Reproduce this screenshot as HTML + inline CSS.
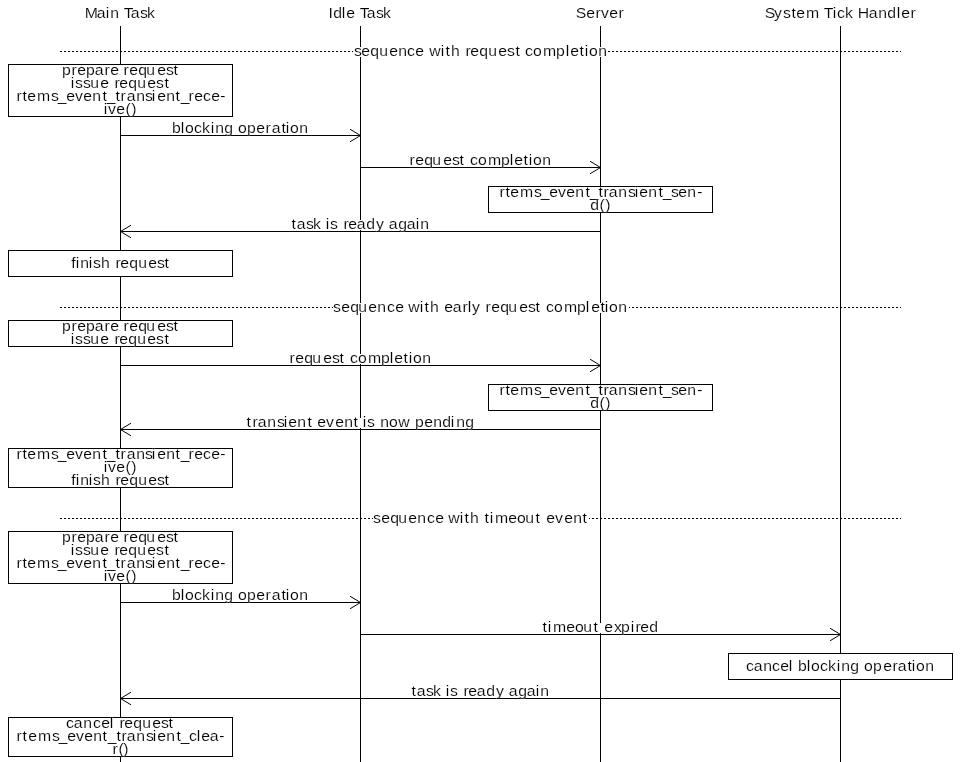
<!DOCTYPE html>
<html><head><meta charset="utf-8"><title>Transient event sequence</title><style>
html,body{margin:0;padding:0;background:#fff;width:960px;height:762px;overflow:hidden}
svg{display:block}
text{font-family:"Liberation Sans",sans-serif;font-size:15.2px;fill:#000;font-kerning:none;font-variant-ligatures:none;will-change:transform;stroke:#fff;stroke-width:0.15px}
</style></head><body>
<svg width="960" height="762" viewBox="0 0 960 762">
<rect width="960" height="762" fill="#fff"/>
<g stroke="#000" shape-rendering="crispEdges"><line x1="120.5" y1="26" x2="120.5" y2="762"/><line x1="360.5" y1="26" x2="360.5" y2="762"/><line x1="600.5" y1="26" x2="600.5" y2="762"/><line x1="840.5" y1="26" x2="840.5" y2="762"/></g>
<line x1="60" y1="51.5" x2="901" y2="51.5" stroke="#000" stroke-dasharray="2 2" shape-rendering="crispEdges"/>
<rect x="353" y="47" width="255" height="10" fill="#fff"/>
<text x="340.38 347.36 356.01 364.66 374.28 382.93 391.35 399.28 407.93 412.74 423.80 428.37 433.65 442.31 447.60 452.16 460.82 469.47 479.09 487.50 495.67 500.34 504.81 512.50 522.12 534.62 543.99 548.32 557.21 562.26 566.35 575.24" y="56" transform="scale(1.04,1)">sequence with request completion</text>
<line x1="60" y1="307.5" x2="901" y2="307.5" stroke="#000" stroke-dasharray="2 2" shape-rendering="crispEdges"/>
<rect x="333" y="303" width="296" height="10" fill="#fff"/>
<text x="320.19 328.12 336.78 344.47 354.09 362.74 372.12 380.05 388.01 392.55 403.61 408.17 413.46 422.38 427.16 435.34 444.71 449.76 453.85 462.23 466.83 472.36 481.01 488.70 499.28 507.69 514.90 520.27 525.00 532.69 542.31 554.81 563.22 568.51 577.40 581.49 585.58 594.47" y="312" transform="scale(1.04,1)">sequence with early request completion</text>
<line x1="60" y1="518.5" x2="901" y2="518.5" stroke="#000" stroke-dasharray="2 2" shape-rendering="crispEdges"/>
<rect x="373" y="514" width="216" height="10" fill="#fff"/>
<text x="358.65 366.59 375.24 382.93 392.55 401.20 410.58 418.51 426.08 431.01 442.07 446.63 451.92 460.45 465.87 470.91 475.96 488.70 497.12 505.05 514.90 519.86 525.24 533.65 542.55 551.20 560.10" y="523" transform="scale(1.04,1)">sequence with timeout event</text>
<rect x="8.5" y="64.5" width="224" height="52" fill="#fff" stroke="#000" shape-rendering="crispEdges"/>
<text x="59.62 68.75 74.28 82.69 91.11 100.48 106.01 113.30 118.75 124.28 132.93 140.62 151.20 159.62 166.83" y="75" transform="scale(1.04,1)">prepare request</text>
<text x="68.03 72.12 79.81 86.78 96.39 103.97 110.10 114.66 123.32 131.97 141.59 150.00 158.17" y="88" transform="scale(1.04,1)">issue request</text>
<text x="15.87 21.63 26.20 35.58 49.04 55.53 63.70 72.12 80.05 88.70 98.56 102.64 111.06 115.87 121.88 131.01 139.42 145.91 151.20 159.86 168.75 173.80 181.25 186.78 195.19 203.12 211.78" y="101" transform="scale(1.04,1)">rtems_event_transient_rece-</text>
<text x="99.76 103.85 111.78 120.67 126.20" y="114" transform="scale(1.04,1)">ive()</text>
<rect x="488.5" y="186.5" width="224" height="26" fill="#fff" stroke="#000" shape-rendering="crispEdges"/>
<text x="480.29 486.06 490.62 500.00 513.46 519.95 528.12 536.54 544.47 553.12 562.98 567.07 575.48 580.29 585.34 594.47 603.85 610.34 614.66 623.32 633.17 637.26 645.19 652.16 660.82 670.43" y="197" transform="scale(1.04,1)">rtems_event_transient_sen-</text>
<text x="567.55 576.44 581.97" y="210" transform="scale(1.04,1)">d()</text>
<rect x="8.5" y="250.5" width="224" height="26" fill="#fff" stroke="#000" shape-rendering="crispEdges"/>
<text x="68.51 72.84 77.16 85.34 89.42 97.12 105.37 111.06 115.62 124.28 132.93 142.55 150.96 158.17" y="268" transform="scale(1.04,1)">finish request</text>
<rect x="8.5" y="320.5" width="224" height="26" fill="#fff" stroke="#000" shape-rendering="crispEdges"/>
<text x="59.62 68.75 74.28 82.69 91.11 100.48 106.01 113.30 118.75 124.28 132.93 140.62 151.20 159.62 166.83" y="331" transform="scale(1.04,1)">prepare request</text>
<text x="68.03 72.12 79.81 86.78 96.39 103.97 110.10 114.66 123.32 131.97 141.59 150.00 158.17" y="344" transform="scale(1.04,1)">issue request</text>
<rect x="488.5" y="384.5" width="224" height="26" fill="#fff" stroke="#000" shape-rendering="crispEdges"/>
<text x="480.29 486.06 490.62 500.00 513.46 519.95 528.12 536.54 544.47 553.12 562.98 567.07 575.48 580.29 585.34 594.47 603.85 610.34 614.66 623.32 633.17 637.26 645.19 652.16 660.82 670.43" y="395" transform="scale(1.04,1)">rtems_event_transient_sen-</text>
<text x="567.55 576.44 581.97" y="408" transform="scale(1.04,1)">d()</text>
<rect x="8.5" y="448.5" width="224" height="39" fill="#fff" stroke="#000" shape-rendering="crispEdges"/>
<text x="15.87 21.63 26.20 35.58 49.04 55.53 63.70 72.12 80.05 88.70 98.56 102.64 111.06 115.87 121.88 131.01 139.42 145.91 151.20 159.86 168.75 173.80 181.25 186.78 195.19 203.12 211.78" y="459" transform="scale(1.04,1)">rtems_event_transient_rece-</text>
<text x="99.76 103.85 111.78 120.67 126.20" y="472" transform="scale(1.04,1)">ive()</text>
<text x="68.51 72.84 77.16 85.34 89.42 97.12 105.37 111.06 115.62 124.28 132.93 142.55 150.96 158.17" y="485" transform="scale(1.04,1)">finish request</text>
<rect x="8.5" y="531.5" width="224" height="52" fill="#fff" stroke="#000" shape-rendering="crispEdges"/>
<text x="59.62 68.75 74.28 82.69 91.11 100.48 106.01 113.30 118.75 124.28 132.93 140.62 151.20 159.62 166.83" y="542" transform="scale(1.04,1)">prepare request</text>
<text x="68.03 72.12 79.81 86.78 96.39 103.97 110.10 114.66 123.32 131.97 141.59 150.00 158.17" y="555" transform="scale(1.04,1)">issue request</text>
<text x="15.87 21.63 26.20 35.58 49.04 55.53 63.70 72.12 80.05 88.70 98.56 102.64 111.06 115.87 121.88 131.01 139.42 145.91 151.20 159.86 168.75 173.80 181.25 186.78 195.19 203.12 211.78" y="568" transform="scale(1.04,1)">rtems_event_transient_rece-</text>
<text x="99.76 103.85 111.78 120.67 126.20" y="581" transform="scale(1.04,1)">ive()</text>
<rect x="728.5" y="653.5" width="224" height="26" fill="#fff" stroke="#000" shape-rendering="crispEdges"/>
<text x="717.31 724.76 733.89 742.31 750.24 758.41 762.82 767.31 775.72 779.81 788.46 796.15 804.57 808.89 817.55 826.48 830.77 839.42 849.28 858.17 863.22 872.60 876.68 880.77 889.66" y="671" transform="scale(1.04,1)">cancel blocking operation</text>
<rect x="8.5" y="717.5" width="224" height="39" fill="#fff" stroke="#000" shape-rendering="crispEdges"/>
<text x="63.46 70.91 80.05 89.42 97.36 105.53 108.97 114.90 119.47 128.12 136.78 146.39 154.81 162.02" y="728" transform="scale(1.04,1)">cancel request</text>
<text x="15.87 21.63 27.16 36.54 50.00 56.49 64.66 73.08 81.01 89.66 98.56 103.61 112.02 116.83 121.88 131.01 140.38 146.88 151.20 159.86 169.71 173.80 181.73 189.18 193.51 201.68 210.82" y="741" transform="scale(1.04,1)">rtems_event_transient_clea-</text>
<text x="108.17 113.94 118.51" y="754" transform="scale(1.04,1)">r()</text>
<line x1="120.5" y1="135.5" x2="360.5" y2="135.5" stroke="#000" shape-rendering="crispEdges"/>
<path d="M350.5 129.5L360.5 135.5L350.5 141.5" fill="none" stroke="#000" stroke-linecap="square"/>
<rect x="172" y="124" width="138" height="10" fill="#fff"/>
<text x="165.38 173.80 177.88 186.54 194.23 202.64 206.97 215.62 224.24 228.85 237.50 246.39 255.29 261.30 270.67 274.76 278.85 287.74" y="133" transform="scale(1.04,1)">blocking operation</text>
<line x1="360.5" y1="167.5" x2="600.5" y2="167.5" stroke="#000" shape-rendering="crispEdges"/>
<path d="M590.5 161.5L600.5 167.5L590.5 173.5" fill="none" stroke="#000" stroke-linecap="square"/>
<rect x="409" y="156" width="144" height="10" fill="#fff"/>
<text x="393.75 399.28 407.93 415.62 426.20 434.62 441.83 446.71 451.92 459.62 469.23 481.73 490.14 494.47 503.37 508.41 512.50 521.39" y="165" transform="scale(1.04,1)">request completion</text>
<line x1="600.5" y1="231.5" x2="120.5" y2="231.5" stroke="#000" shape-rendering="crispEdges"/>
<path d="M130.5 225.5L120.5 231.5L130.5 237.5" fill="none" stroke="#000" stroke-linecap="square"/>
<rect x="291" y="220" width="140" height="10" fill="#fff"/>
<text x="280.29 285.34 294.23 300.96 309.48 313.22 317.31 325.22 330.29 334.86 343.03 352.16 361.54 369.77 373.80 382.93 391.11 399.76 404.09" y="229" transform="scale(1.04,1)">task is ready again</text>
<line x1="120.5" y1="365.5" x2="600.5" y2="365.5" stroke="#000" shape-rendering="crispEdges"/>
<path d="M590.5 359.5L600.5 365.5L590.5 371.5" fill="none" stroke="#000" stroke-linecap="square"/>
<rect x="289" y="354" width="144" height="10" fill="#fff"/>
<text x="278.37 283.89 292.55 300.24 310.82 319.23 326.44 331.33 336.54 344.23 353.85 366.35 374.76 379.09 387.98 393.03 397.12 406.01" y="363" transform="scale(1.04,1)">request completion</text>
<line x1="600.5" y1="429.5" x2="120.5" y2="429.5" stroke="#000" shape-rendering="crispEdges"/>
<path d="M130.5 423.5L120.5 429.5L130.5 435.5" fill="none" stroke="#000" stroke-linecap="square"/>
<rect x="246" y="418" width="229" height="10" fill="#fff"/>
<text x="237.02 242.79 247.84 256.97 266.35 272.84 277.16 285.82 295.67 300.42 305.05 313.46 322.36 331.01 339.90 345.03 348.80 352.88 360.77 365.62 374.04 382.93 394.32 399.04 407.93 416.59 425.24 433.41 438.70 447.36" y="427" transform="scale(1.04,1)">transient event is now pending</text>
<line x1="120.5" y1="602.5" x2="360.5" y2="602.5" stroke="#000" shape-rendering="crispEdges"/>
<path d="M350.5 596.5L360.5 602.5L350.5 608.5" fill="none" stroke="#000" stroke-linecap="square"/>
<rect x="172" y="591" width="138" height="10" fill="#fff"/>
<text x="165.38 173.80 177.88 186.54 194.23 202.64 206.97 215.62 224.24 228.85 237.50 246.39 255.29 261.30 270.67 274.76 278.85 287.74" y="600" transform="scale(1.04,1)">blocking operation</text>
<line x1="360.5" y1="634.5" x2="840.5" y2="634.5" stroke="#000" shape-rendering="crispEdges"/>
<path d="M830.5 628.5L840.5 634.5L830.5 640.5" fill="none" stroke="#000" stroke-linecap="square"/>
<rect x="542" y="623" width="118" height="10" fill="#fff"/>
<text x="521.63 526.68 531.73 544.47 552.88 560.82 570.67 576.23 581.01 590.38 597.12 606.49 611.06 615.62 624.28" y="632" transform="scale(1.04,1)">timeout expired</text>
<line x1="840.5" y1="698.5" x2="120.5" y2="698.5" stroke="#000" shape-rendering="crispEdges"/>
<path d="M130.5 692.5L120.5 698.5L130.5 704.5" fill="none" stroke="#000" stroke-linecap="square"/>
<rect x="411" y="687" width="140" height="10" fill="#fff"/>
<text x="395.67 400.72 409.62 416.35 424.86 428.61 432.69 440.61 445.67 450.24 458.41 467.55 476.92 485.15 489.18 498.32 506.49 515.14 519.47" y="696" transform="scale(1.04,1)">task is ready again</text>
<text x="81.49 93.03 101.68 106.01 114.08 118.99 125.72 134.62 141.35" y="18" transform="scale(1.04,1)">Main Task</text>
<text x="315.87 320.43 328.61 332.93 340.87 345.91 352.64 361.54 368.27" y="18" transform="scale(1.04,1)">Idle Task</text>
<text x="553.61 563.70 572.60 577.88 585.82 594.71" y="18" transform="scale(1.04,1)">Server</text>
<text x="735.34 744.23 752.88 761.06 765.62 775.00 787.28 792.07 800.72 804.81 812.50 819.76 824.76 835.34 844.47 853.12 862.26 866.59 875.48" y="18" transform="scale(1.04,1)">System Tick Handler</text>
</svg>
</body></html>
